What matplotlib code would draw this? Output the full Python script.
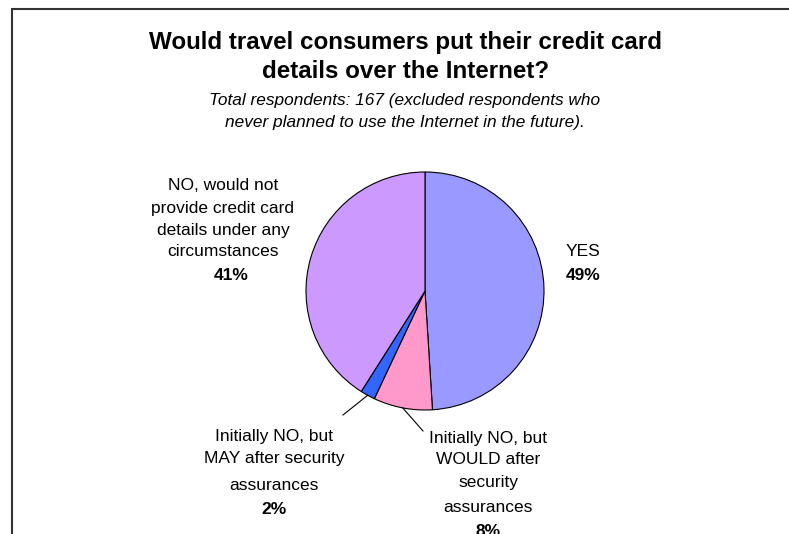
import matplotlib
matplotlib.use("Agg")
import matplotlib.pyplot as plt
import numpy as np

plt.rcParams["font.family"] = ["Liberation Sans", "DejaVu Sans"]

# slices, clockwise from 12 o'clock
labels = [
    "YES",
    "Initially NO, but WOULD after security assurances",
    "Initially NO, but MAY after security assurances",
    "NO, would not provide credit card details under any circumstances",
]
values = [49, 8, 2, 41]
colors = ["#9999FF", "#FF99CC", "#3366FF", "#CC99FF"]

title_lines = ["Would travel consumers put their credit card",
               "details over the Internet?"]
subtitle_lines = ["Total respondents: 167 (excluded respondents who",
                  "never planned to use the Internet in the future)."]

W, H = 789, 534
fig = plt.figure(figsize=(W / 100, H / 100), dpi=100)
ax = fig.add_axes([0, 0, 1, 1])
ax.set_xlim(0, W)
ax.set_ylim(0, H)
ax.set_aspect("equal")
ax.axis("off")


def py(y):
    # pixel row (from top) -> data y
    return H - y


# chart border (only left and top edges visible)
ax.plot([12, 12, W], [0, py(9), py(9)], color="#333333", lw=1.5,
        solid_joinstyle="miter", clip_on=False)

cx, cy, r = 425, py(291), 119
wedges, _ = ax.pie(values, colors=colors, startangle=90, counterclock=False,
                   center=(cx, cy), radius=r,
                   wedgeprops=dict(edgecolor="black", linewidth=0.8))
ax.set_xlim(0, W)
ax.set_ylim(0, H)


def put_lines(x, ys, lines, **kw):
    for y, s in zip(ys, lines):
        ax.text(x, py(y), s, ha="center", va="center", **kw)


put_lines(406, [42, 72], title_lines, fontsize=17.4, fontweight="bold")
put_lines(405, [100, 122], subtitle_lines, fontsize=12.4, fontstyle="italic")

lab = dict(fontsize=12.5)
pct = dict(fontsize=12.5, fontweight="bold")

# YES
put_lines(583, [252], ["YES"], **lab)
put_lines(583, [275], [f"{values[0]}%"], **pct)
# NO
put_lines(223, [186, 208, 230, 252],
          ["NO, would not", "provide credit card", "details under any",
           "circumstances"], **lab)
put_lines(231, [275], [f"{values[3]}%"], **pct)
# MAY
put_lines(274, [437, 458, 485],
          ["Initially NO, but", "MAY after security", "assurances"], **lab)
put_lines(274, [510], [f"{values[2]}%"], **pct)
# WOULD
put_lines(488, [438, 459, 482, 507],
          ["Initially NO, but", "WOULD after", "security", "assurances"], **lab)
put_lines(488, [532], [f"{values[1]}%"], **pct)

# leader lines for the small slices
for i, end in [(2, (343, 415)), (1, (423, 431))]:
    w = wedges[i]
    ang = np.deg2rad((w.theta1 + w.theta2) / 2)
    x0, y0 = cx + r * np.cos(ang), cy + r * np.sin(ang)
    ax.plot([x0, end[0]], [y0, py(end[1])], color="black", lw=0.8)

fig.savefig("out.png", dpi=100)
